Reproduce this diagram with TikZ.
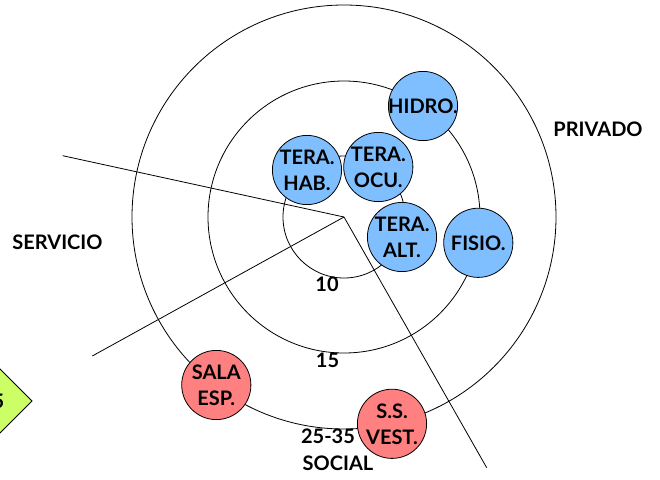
\documentclass[tikz,border=0pt]{standalone}
\usepackage{fontspec}
\setmainfont{Lato}
\definecolor{roomblue}{HTML}{80BFFF}
\definecolor{roomred}{HTML}{FF8080}
\definecolor{zonegreen}{HTML}{CCFF66}
\begin{document}
\begin{tikzpicture}[x=0.75pt,y=-0.75pt,
  ring/.style={draw=black,line width=0.6pt},
  ray/.style={draw=black,line width=0.6pt},
  room/.style={circle,draw=black,line width=0.6pt,minimum size=51.9pt,inner sep=0pt,align=center,font=\fontsize{15}{19.5}\selectfont\bfseries},
  blueroom/.style={room,fill=roomblue},
  redroom/.style={room,fill=roomred},
  lbl/.style={inner sep=0pt,font=\fontsize{15}{17}\selectfont\bfseries}]
\useasboundingbox (0,0) rectangle (660,479);
\clip (0,0) rectangle (660,479);
% zone diamond (cut by the left edge)
\draw[fill=zonegreen,line width=0.6pt] (-20,349) -- (32,401) -- (-20,453) -- (-72,401) -- cycle;
\node[lbl,anchor=east] (zone5) at (4.5,401) {5};
% centre and rays
\coordinate (c) at (344,217);
\coordinate (r1) at (62.7,155.7);
\coordinate (r2) at (92.3,356);
\coordinate (r3) at (486.7,467.7);
\draw[ray] (r1) -- (c);
\draw[ray] (r2) -- (c);
\draw[ray] (c) -- (r3);
% rings
\draw[ring] (c) circle[radius=45.75pt];
\draw[ring] (c) circle[radius=102pt];
\draw[ring] (c) circle[radius=159pt];
% rooms
\node[blueroom] (hidro) at (423,106) {\makebox[0pt]{HIDRO.}};
\node[blueroom] (hab) at (307,170) {\makebox[0pt]{TERA.}\\\makebox[0pt]{HAB.}};
\node[blueroom] (ocu) at (378.3,167) {\makebox[0pt]{TERA.}\\\makebox[0pt]{OCU.}};
\node[blueroom] (alt) at (402,237) {\makebox[0pt]{TERA.}\\\makebox[0pt]{ALT.}};
\node[blueroom] (fisio) at (478.3,242.8) {\makebox[0pt]{FISIO.}};
\node[redroom] (sala) at (216.3,385) {\makebox[0pt]{SALA}\\\makebox[0pt]{ESP.}};
\node[redroom] (vest) at (392,423.8) {\makebox[0pt]{S.S.}\\\makebox[0pt]{VEST.}};
% labels
\node[lbl] (privado) at (598,129) {PRIVADO};
\node[lbl] (servicio) at (57.5,242) {SERVICIO};
\node[lbl] (d10) at (327,284) {10};
\node[lbl] (d15) at (327.5,360) {15};
\node[lbl] (d25) at (328,436) {25-35};
\node[lbl] (social) at (338,463) {SOCIAL};
\end{tikzpicture}
\end{document}
